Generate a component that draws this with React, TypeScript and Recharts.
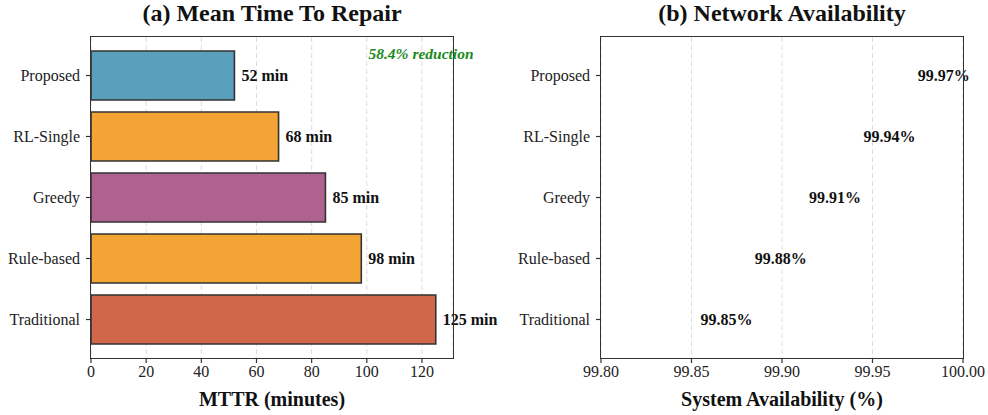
import { Bar, BarChart, CartesianGrid, Cell, LabelList, XAxis, YAxis } from "recharts"

const methods = ["Proposed", "RL-Single", "Greedy", "Rule-based", "Traditional"]
const mttr = [52, 68, 85, 98, 125]
const availability = [99.97, 99.94, 99.91, 99.88, 99.85]
const barColors = ["#5a9fbb", "#f2a535", "#b0628e", "#f2a535", "#d1664b"]
const mttrTicks = [0, 20, 40, 60, 80, 100, 120]
const availTicks = [99.8, 99.85, 99.9, 99.95, 100]

const mttrData = methods.map((name, i) => ({ name, value: mttr[i] }))
const availData = methods.map((name, i) => ({ name, value: availability[i] }))

const font = "'Liberation Serif', 'Times New Roman', serif"
const tickStyle = { fontSize: 16, fill: "#222", fontFamily: font }
const axisTitle = { fontSize: 20, fontWeight: 700, fill: "#111", fontFamily: font }

// value label drawn to the right of the bar end, no wrapping
const valueLabel = (fmt: (v: number) => string, gap: number) => (props: any) => {
  const { x, y, width, height, value } = props
  return (
    <text
      x={Number(x) + Number(width) + gap}
      y={Number(y) + Number(height) / 2}
      dy="0.35em"
      fontFamily={font}
      fontSize={16}
      fontWeight={700}
      fill="#111"
    >
      {fmt(Number(value))}
    </text>
  )
}

function Frame({ left, top, width, height }: { left: number; top: number; width: number; height: number }) {
  return (
    <div
      style={{
        position: "absolute",
        left: left - 0.75,
        top: top - 0.75,
        width,
        height,
        border: "1.5px solid #333",
        boxSizing: "content-box",
        pointerEvents: "none",
      }}
    />
  )
}

function Title({ text, center }: { text: string; center: number }) {
  return (
    <div
      style={{
        position: "absolute",
        left: center - 200,
        width: 400,
        top: 0,
        lineHeight: "27px",
        textAlign: "center",
        fontFamily: font,
        fontWeight: 700,
        fontSize: 24,
        color: "#111",
      }}
    >
      {text}
    </div>
  )
}

export default function App() {
  return (
    <div style={{ position: "absolute", left: 0, top: 0, width: 988, height: 415, background: "#fff" }}>
      <div style={{ position: "absolute", left: 0, top: 0 }}>
        <BarChart width={520} height={415} data={mttrData} layout="vertical" margin={{ top: 37, right: 67, bottom: 0, left: 0 }}>
          <CartesianGrid horizontal={false} stroke="#dcdcdc" strokeDasharray="5 3" />
          <XAxis
            type="number"
            domain={[0, 131.25]}
            ticks={mttrTicks}
            height={57}
            axisLine={false}
            tickLine={{ stroke: "#333", strokeWidth: 1.2 }}
            tickSize={5}
            tickMargin={3}
            tick={tickStyle}
            label={{ value: "MTTR (minutes)", position: "insideBottom", offset: 9, style: axisTitle }}
          />
          <YAxis
            type="category"
            dataKey="name"
            width={91}
            padding={{ top: 8, bottom: 8 }}
            axisLine={false}
            tickLine={{ stroke: "#333", strokeWidth: 1.2 }}
            tickSize={5}
            tickMargin={6}
            tick={tickStyle}
          />
          <Bar dataKey="value" barSize={49} stroke="#333" strokeWidth={1.6} isAnimationActive={false}>
            {mttrData.map((d, i) => (
              <Cell key={d.name} fill={barColors[i]} />
            ))}
            <LabelList dataKey="value" content={valueLabel((v) => `${v} min`, 7)} />
          </Bar>
        </BarChart>
      </div>
      <div style={{ position: "absolute", left: 494, top: 0 }}>
        <BarChart width={494} height={415} data={availData} layout="vertical" margin={{ top: 37, right: 25, bottom: 0, left: 0 }}>
          <CartesianGrid horizontal={false} stroke="#dcdcdc" strokeDasharray="5 3" />
          <XAxis
            type="number"
            domain={[99.8, 100]}
            ticks={availTicks}
            allowDataOverflow
            height={57}
            axisLine={false}
            tickLine={{ stroke: "#333", strokeWidth: 1.2 }}
            tickSize={5}
            tickMargin={3}
            tick={tickStyle}
            tickFormatter={(v: number) => v.toFixed(2)}
            label={{ value: "System Availability (%)", position: "insideBottom", offset: 9, style: axisTitle }}
          />
          <YAxis
            type="category"
            dataKey="name"
            width={107}
            padding={{ top: 8, bottom: 8 }}
            axisLine={false}
            tickLine={{ stroke: "#333", strokeWidth: 1.2 }}
            tickSize={5}
            tickMargin={6}
            tick={tickStyle}
          />
          <Bar dataKey="value" barSize={49} fill="none" stroke="none" isAnimationActive={false}>
            <LabelList dataKey="value" content={valueLabel((v) => `${v.toFixed(2)}%`, 9)} />
          </Bar>
        </BarChart>
      </div>
      <Frame left={91} top={37} width={362} height={321} />
      <Frame left={601} top={37} width={362} height={321} />
      <Title text="(a) Mean Time To Repair" center={272} />
      <Title text="(b) Network Availability" center={782} />
      <div
        style={{
          position: "absolute",
          left: 321,
          width: 200,
          top: 44,
          lineHeight: "20px",
          textAlign: "center",
          fontFamily: font,
          fontStyle: "italic",
          fontWeight: 700,
          fontSize: 15.5,
          color: "#1a8a1a",
        }}
      >
        58.4% reduction
      </div>
    </div>
  )
}
